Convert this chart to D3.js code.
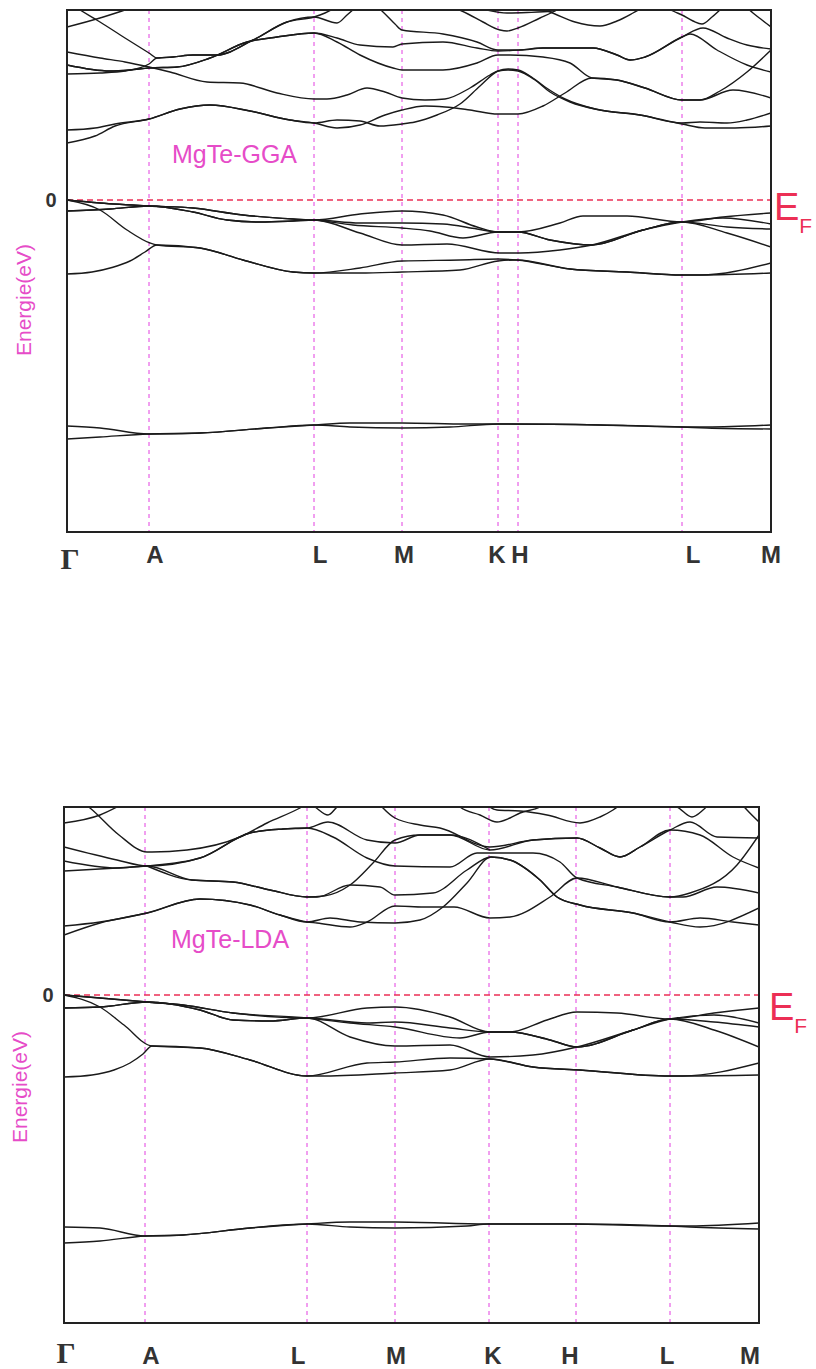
<!DOCTYPE html>
<html>
<head>
<meta charset="utf-8">
<script src="https://cdn.jsdelivr.net/npm/d3@7"></script>
<style>
  body { margin: 0; background: #fff; }
  text { font-family: "Liberation Sans", Arial, sans-serif; }
</style>
</head>
<body>
<svg id="chart" width="816" height="1369"></svg>
<script>
// high-symmetry points along the path (k in path units)
const ggaTicks = [0, 0.82, 2.47, 3.35, 4.31, 4.51, 6.15, 7.04];
const ggaTickNames = ['Γ', 'A', 'L', 'M', 'K', 'H', 'L', 'M'];
const ldaTicks = [0, 0.81, 2.43, 3.31, 4.25, 5.12, 6.06, 6.95];
const ldaTickNames = ['Γ', 'A', 'L', 'M', 'K', 'H', 'L', 'M'];

// MgTe-GGA bands, [k, E(eV)]
const ggaConduction = [
  [[0,2.28],[0.28,2.56],[0.48,2.96],[0.82,3.24],[1.13,3.64],[1.43,3.80],[1.83,3.56],[2.23,3.20],[2.47,3.08],[2.70,2.88],[2.93,3.00],[3.18,3.40],[3.35,3.60],[3.58,3.76],[3.78,3.72],[4.03,3.60],[4.31,3.44],[4.51,3.44],[4.76,3.76],[4.98,4.28],[5.25,4.88],[5.50,4.80],[5.78,4.48],[6.15,4.00],[6.33,4.00],[6.53,4.36],[6.80,5.12],[7.04,6.00]],
  [[0,2.80],[0.28,2.88],[0.48,3.04],[0.82,3.24],[1.13,3.64],[1.43,3.80],[1.83,3.56],[2.23,3.20],[2.47,3.08],[2.70,3.20],[2.93,3.16],[3.13,2.96],[3.35,3.04],[3.48,3.12],[3.70,3.40],[3.93,3.84],[4.13,4.56],[4.31,5.16],[4.41,5.24],[4.51,5.20],[4.63,4.96],[4.78,4.52],[4.98,4.04],[5.28,3.64],[5.73,3.40],[6.15,3.04],[6.38,2.88],[6.68,2.88],[7.04,2.96]],
  [[0,5.92],[0.33,5.68],[0.58,5.52],[0.82,5.32],[1.03,5.12],[1.40,4.72],[1.73,4.68],[2.10,4.28],[2.47,4.04],[2.60,4.04],[2.80,4.20],[3.00,4.48],[3.18,4.32],[3.35,4.08],[3.58,4.00],[3.78,4.04],[4.03,4.48],[4.23,5.00],[4.31,5.16],[4.41,5.20],[4.51,5.16],[4.68,4.80],[4.83,4.32],[5.03,3.92],[5.33,3.60],[5.73,3.40],[6.15,3.08],[6.33,3.12],[6.60,3.08],[6.80,3.20],[7.04,3.48]],
  [[0,5.40],[0.43,5.16],[0.63,5.20],[0.82,5.28],[1.10,5.32],[1.43,5.68],[1.80,6.32],[2.10,6.52],[2.47,6.68],[2.70,6.32],[2.93,5.80],[3.26,5.28],[3.35,5.20],[3.76,5.20],[4.10,5.48],[4.31,5.80],[4.43,5.80],[4.76,5.72],[5.03,5.48],[5.25,4.88],[5.50,4.80],[5.78,4.48],[6.15,4.00],[6.33,4.00],[6.66,4.40],[7.04,4.08]],
  [[0,5.40],[0.43,5.16],[0.63,5.20],[0.82,5.28],[1.10,5.32],[1.43,5.68],[1.80,6.32],[2.10,6.52],[2.47,6.68],[2.70,6.48],[2.93,6.20],[3.26,6.12],[3.35,6.24],[3.76,6.32],[4.10,6.08],[4.31,5.96],[4.53,6.00],[4.76,6.08],[5.26,6.08],[5.50,5.80],[5.63,5.60],[5.78,5.72],[6.15,6.52],[6.36,6.88],[6.60,6.48],[6.80,6.20],[7.04,6.04]],
  [[3.08,7.80],[3.16,7.52],[3.28,7.04],[3.35,6.80],[3.76,6.64],[4.10,6.32],[4.31,6.00],[4.53,6.00],[4.76,6.08],[5.26,6.08],[5.50,5.80],[5.63,5.60],[5.78,5.72],[6.15,6.52],[6.23,6.64],[6.50,6.00],[6.80,5.40],[7.04,5.12]],
  [[0,7.92],[0.13,7.60],[0.33,7.12],[0.58,6.48],[0.82,5.88],[0.90,5.68],[1.06,5.72],[1.26,5.80],[1.50,5.80],[1.86,6.40],[2.20,7.12],[2.47,7.32],[2.58,7.48],[2.73,7.80]],
  [[0,5.04],[0.33,5.08],[0.58,5.16],[0.82,5.44],[0.90,5.68],[1.06,5.72],[1.26,5.80],[1.50,5.80],[1.86,6.40],[2.20,7.12],[2.47,7.32],[2.70,7.08],[2.80,7.40],[2.88,7.68]],
  [[0,6.92],[0.33,7.28],[0.55,7.56],[0.68,7.76]],
  [[3.88,7.68],[4.01,7.44],[4.16,7.12],[4.33,6.80],[4.40,6.76],[4.51,6.88],[4.73,7.28],[4.86,7.52],[4.95,7.72]],
  [[4.73,7.68],[4.88,7.44],[5.08,7.12],[5.33,6.96],[5.50,7.16],[5.66,7.48],[5.75,7.68]],
  [[4.20,7.60],[4.40,7.48],[4.60,7.50],[4.85,7.56],[5.00,7.70]],
  [[5.98,7.76],[6.06,7.56],[6.15,7.40],[6.26,7.16],[6.35,7.04],[6.45,7.32],[6.55,7.68]],
  [[6.78,7.76],[6.86,7.48],[6.95,7.20],[7.04,6.92]]
];
const ggaValence = [
  [[0,0],[0.33,-0.12],[0.82,-0.24],[1.26,-0.32],[1.76,-0.60],[2.26,-0.76],[2.47,-0.80],[2.93,-0.56],[3.35,-0.44],[3.76,-0.60],[4.10,-1.08],[4.31,-1.28],[4.51,-1.28],[4.93,-0.92],[5.16,-0.64],[5.60,-0.64],[6.15,-0.88],[6.56,-0.68],[7.04,-0.52]],
  [[0,-0.44],[0.43,-0.36],[0.82,-0.24],[1.26,-0.48],[1.60,-0.80],[1.93,-0.88],[2.26,-0.84],[2.47,-0.80],[2.93,-0.92],[3.35,-0.92],[3.76,-0.96],[4.10,-1.16],[4.31,-1.28],[4.51,-1.28],[4.83,-1.60],[5.25,-1.80],[5.76,-1.20],[6.15,-0.88],[6.56,-0.72],[7.04,-0.96]],
  [[0,0],[0.33,-0.40],[0.60,-1.20],[0.83,-1.72],[0.90,-1.80],[1.33,-1.92],[1.76,-2.40],[2.26,-2.88],[2.47,-2.92],[2.93,-2.72],[3.35,-2.44],[3.93,-2.40],[4.31,-2.36],[4.50,-2.40],[5.03,-2.76],[5.60,-2.88],[6.15,-3.00],[6.33,-3.00],[7.04,-2.52]],
  [[0,-2.96],[0.25,-2.88],[0.45,-2.70],[0.63,-2.44],[0.78,-2.08],[0.90,-1.80],[1.33,-1.92],[1.76,-2.40],[2.26,-2.88],[2.47,-2.92],[2.93,-2.92],[3.35,-2.88],[3.93,-2.80],[4.31,-2.44],[4.50,-2.40],[5.03,-2.76],[5.60,-2.88],[6.15,-3.00],[6.33,-3.00],[7.04,-2.92]],
  [[0,0],[0.33,-0.12],[0.82,-0.24],[1.26,-0.32],[1.76,-0.60],[2.26,-0.76],[2.47,-0.80],[2.86,-1.00],[3.35,-1.12],[3.63,-1.24],[3.96,-1.52],[4.31,-1.28],[4.51,-1.28],[4.83,-1.60],[5.25,-1.80],[5.76,-1.20],[6.15,-0.88],[6.60,-1.08],[7.04,-1.16]],
  [[0,-0.44],[0.43,-0.36],[0.82,-0.24],[1.26,-0.48],[1.60,-0.80],[1.93,-0.88],[2.26,-0.84],[2.47,-0.80],[2.93,-1.32],[3.35,-1.80],[3.80,-1.76],[4.33,-2.12],[4.53,-2.12],[4.93,-2.00],[5.25,-1.80],[5.76,-1.20],[6.15,-0.88],[6.60,-1.32],[7.04,-1.88]]
];
const ggaSemicore = [
  [[0,-9.04],[0.33,-9.12],[0.82,-9.36],[1.33,-9.32],[2.00,-9.12],[2.47,-9.00],[2.83,-8.92],[3.35,-8.92],[4.00,-8.96],[4.31,-8.96],[5.33,-9.00],[6.15,-9.08],[6.40,-9.08],[7.04,-9.00]],
  [[0,-9.56],[0.33,-9.48],[0.82,-9.36],[1.33,-9.32],[2.00,-9.12],[2.47,-9.00],[2.83,-9.08],[3.35,-9.12],[3.83,-9.08],[4.31,-8.96],[5.33,-9.00],[6.15,-9.08],[6.40,-9.12],[7.04,-9.16]]
];

// MgTe-LDA bands, [k, E(eV)]
const ldaConduction = [
  [[0,2.40],[0.36,2.88],[0.83,3.28],[1.36,3.84],[1.86,3.60],[2.16,3.20],[2.43,2.92],[2.53,2.88],[2.86,2.72],[3.03,2.92],[3.31,3.56],[3.60,3.52],[3.90,3.52],[4.26,3.08],[4.46,3.12],[4.86,3.92],[5.13,4.68],[5.53,4.32],[6.06,3.92],[6.26,4.08],[6.73,5.20],[6.95,6.40]],
  [[0,2.76],[0.36,2.92],[0.83,3.28],[1.36,3.84],[1.86,3.60],[2.16,3.20],[2.43,2.92],[2.66,3.08],[2.96,2.92],[3.31,2.88],[3.56,3.00],[3.79,3.52],[4.03,4.48],[4.27,5.52],[4.46,5.40],[4.76,4.60],[4.93,3.92],[5.16,3.60],[5.69,3.28],[6.06,2.92],[6.36,3.08],[6.69,2.92],[6.95,2.80]],
  [[0,5.36],[0.53,5.08],[0.83,5.16],[1.28,4.60],[1.69,4.52],[2.06,4.20],[2.43,3.92],[2.53,3.92],[2.86,4.40],[3.16,4.32],[3.31,4.00],[3.69,4.08],[4.03,5.00],[4.27,5.52],[4.46,5.40],[4.76,4.60],[4.93,3.92],[5.16,3.60],[5.69,3.28],[6.06,2.92],[6.36,2.72],[6.95,3.48]],
  [[0,5.92],[0.53,5.40],[0.83,5.16],[1.36,5.48],[1.86,6.48],[2.19,6.64],[2.43,6.68],[2.69,6.32],[3.03,5.48],[3.31,5.16],[3.86,5.12],[4.13,5.68],[4.26,5.68],[4.69,5.68],[4.96,5.32],[5.13,4.68],[5.53,4.32],[6.06,3.92],[6.19,3.92],[6.53,4.32],[6.95,4.08]],
  [[0,4.96],[0.53,5.08],[0.83,5.16],[1.36,5.48],[1.86,6.48],[2.19,6.64],[2.43,6.68],[2.64,6.92],[3.03,6.20],[3.31,6.08],[3.56,6.40],[3.86,6.40],[4.26,5.80],[4.69,6.20],[5.13,6.28],[5.36,5.88],[5.56,5.52],[5.76,5.92],[6.06,6.60],[6.26,6.92],[6.53,6.32],[6.95,6.28]],
  [[3.12,7.80],[3.19,7.48],[3.31,7.08],[3.56,6.80],[3.76,6.68],[4.26,5.92],[4.69,6.20],[5.13,6.28],[5.36,5.88],[5.56,5.52],[5.76,5.92],[6.06,6.60],[6.36,6.40],[6.69,5.52],[6.95,5.08]],
  [[0.83,5.16],[1.28,4.60],[1.69,4.52],[2.06,4.20],[2.43,3.92],[2.60,3.96],[2.86,4.40],[3.09,5.28],[3.31,6.20],[3.56,6.40],[3.86,6.40],[4.26,5.80]],
  [[0,8.20],[0.26,7.48],[0.55,6.40],[0.83,5.72],[0.88,5.72],[1.23,5.80],[1.76,6.32],[2.03,6.88],[2.36,7.48],[2.50,7.80]],
  [[0,6.88],[0.36,7.20],[0.53,7.52],[0.66,7.80]],
  [[2.40,7.80],[2.51,7.52],[2.64,7.20],[2.73,7.52],[2.80,7.80]],
  [[3.90,7.80],[3.96,7.52],[4.16,7.20],[4.33,6.92],[4.46,7.08],[4.56,7.28],[4.76,7.52],[4.86,7.80]],
  [[4.20,7.68],[4.33,7.40],[4.56,7.36],[4.83,7.20],[5.16,6.88],[5.36,7.12],[5.49,7.40],[5.60,7.72]],
  [[6.03,7.60],[6.13,7.52],[6.28,7.12],[6.39,7.40],[6.48,7.76]],
  [[6.75,7.76],[6.83,7.40],[6.95,6.92]]
];
const ldaValence = [
  [[0,0],[0.36,-0.12],[0.83,-0.28],[1.19,-0.40],[1.69,-0.72],[2.43,-0.92],[3.03,-0.52],[3.31,-0.48],[3.86,-0.88],[4.26,-1.48],[4.46,-1.48],[4.83,-1.00],[5.13,-0.68],[5.53,-0.72],[6.06,-0.96],[6.50,-0.72],[6.95,-0.52]],
  [[0,-0.52],[0.36,-0.48],[0.83,-0.28],[1.36,-0.60],[1.69,-1.00],[2.06,-1.04],[2.43,-0.92],[3.03,-1.12],[3.31,-1.08],[3.86,-1.32],[4.26,-1.48],[4.46,-1.48],[4.86,-1.80],[5.13,-2.08],[5.69,-1.40],[6.06,-0.96],[6.50,-0.80],[6.95,-1.12]],
  [[0,0],[0.36,-0.48],[0.60,-1.20],[0.88,-2.04],[1.36,-2.12],[1.86,-2.60],[2.43,-3.24],[3.03,-2.72],[3.31,-2.68],[3.86,-2.52],[4.26,-2.56],[4.69,-2.88],[5.16,-3.00],[6.06,-3.24],[6.19,-3.24],[6.95,-2.72]],
  [[0,-3.28],[0.28,-3.20],[0.50,-3.00],[0.66,-2.72],[0.79,-2.36],[0.88,-2.04],[1.36,-2.12],[1.86,-2.60],[2.43,-3.24],[2.56,-3.24],[3.31,-3.12],[3.86,-3.00],[4.26,-2.56],[4.69,-2.88],[5.16,-3.00],[6.06,-3.24],[6.19,-3.24],[6.95,-3.20]],
  [[0,0],[0.36,-0.12],[0.83,-0.28],[1.19,-0.40],[1.69,-0.72],[2.43,-0.92],[2.86,-1.12],[3.31,-1.28],[3.96,-1.72],[4.26,-1.48],[4.46,-1.48],[4.86,-1.80],[5.13,-2.08],[5.69,-1.40],[6.06,-0.96],[6.50,-1.08],[6.95,-1.28]],
  [[0,-0.52],[0.36,-0.48],[0.83,-0.28],[1.36,-0.60],[1.69,-1.00],[2.06,-1.04],[2.43,-0.92],[2.86,-1.68],[3.31,-2.04],[3.86,-2.00],[4.26,-2.48],[4.69,-2.40],[5.13,-2.08],[5.69,-1.40],[6.06,-0.96],[6.50,-1.40],[6.95,-2.08]]
];
const ldaSemicore = [
  [[0,-9.28],[0.36,-9.32],[0.81,-9.64],[1.19,-9.60],[1.86,-9.32],[2.43,-9.16],[2.86,-9.08],[3.31,-9.08],[4.24,-9.16],[5.09,-9.16],[6.06,-9.24],[6.26,-9.24],[6.95,-9.12]],
  [[0,-9.92],[0.36,-9.84],[0.81,-9.64],[1.19,-9.60],[1.86,-9.32],[2.43,-9.16],[2.86,-9.28],[3.31,-9.32],[4.03,-9.24],[4.24,-9.16],[5.09,-9.16],[6.06,-9.24],[6.26,-9.28],[6.95,-9.36]]
];

const MAGENTA = '#e64cc8';
const REDPINK = '#ec2f55';

const svg = d3.select('#chart');

function drawPanel(p) {
  const kMax = p.ticks[p.ticks.length - 1];
  const x = d3.scaleLinear().domain([0, kMax]).range([p.left, p.left + p.width]);
  const y = d3.scaleLinear().domain(p.eRange).range([p.top + p.height, p.top]);
  const g = svg.append('g');

  g.append('clipPath').attr('id', p.id + '-clip')
    .append('rect')
      .attr('x', p.left).attr('y', p.top)
      .attr('width', p.width).attr('height', p.height);

  // vertical lines at the inner high-symmetry points
  g.selectAll('.kline')
    .data(p.ticks.slice(1, -1))
    .join('line')
      .attr('class', 'kline')
      .attr('x1', (d) => x(d)).attr('x2', (d) => x(d))
      .attr('y1', p.top).attr('y2', p.top + p.height)
      .attr('stroke', '#e23ee0')
      .attr('stroke-width', 1)
      .attr('stroke-dasharray', '4,4');

  // Fermi level
  g.append('line')
    .attr('x1', p.left).attr('x2', p.left + p.width)
    .attr('y1', y(0)).attr('y2', y(0))
    .attr('stroke', REDPINK)
    .attr('stroke-width', 1.3)
    .attr('stroke-dasharray', '6,4');

  const line = d3.line()
    .x((d) => x(d[0]))
    .y((d) => y(d[1]))
    .curve(d3.curveMonotoneX);

  g.append('g')
    .attr('clip-path', `url(#${p.id}-clip)`)
    .selectAll('path')
    .data(p.bands)
    .join('path')
      .attr('d', line)
      .attr('fill', 'none')
      .attr('stroke', '#1a1a1a')
      .attr('stroke-width', 1.4);

  // frame
  g.append('rect')
    .attr('x', p.left).attr('y', p.top)
    .attr('width', p.width).attr('height', p.height)
    .attr('fill', 'none')
    .attr('stroke', '#222')
    .attr('stroke-width', 2);

  // k-point labels
  g.selectAll('.klabel')
    .data(p.ticks)
    .join('text')
      .attr('class', 'klabel')
      .attr('x', (d, i) => x(d) + p.labelNudge[i])
      .attr('y', (d, i) => (i === 0 ? p.gammaBase : p.labelBase))
      .attr('text-anchor', 'middle')
      .attr('fill', '#333')
      .style('font-family', (d, i) => (i === 0 ? '"Liberation Serif", "DejaVu Serif", serif' : null))
      .style('font-size', (d, i) => (i === 0 ? '30px' : '24px'))
      .style('font-weight', 'bold')
      .text((d, i) => p.names[i]);

  // zero label
  g.append('text')
    .attr('x', p.left - 16).attr('y', y(0) + 7)
    .attr('text-anchor', 'middle')
    .attr('fill', '#333')
    .style('font-size', '20px')
    .style('font-weight', 'bold')
    .text('0');

  // axis title
  g.append('text')
    .attr('transform', `translate(${p.yTitleX},${p.yTitleY}) rotate(-90)`)
    .attr('text-anchor', 'middle')
    .attr('fill', MAGENTA)
    .style('font-size', '21px')
    .text('Energie(eV)');

  // panel title
  g.append('text')
    .attr('x', p.titleX).attr('y', p.titleY)
    .attr('fill', MAGENTA)
    .style('font-size', '25px')
    .text(p.title);

  // E_F marker
  const ef = g.append('text')
    .attr('x', p.efX).attr('y', y(0) + p.efDy)
    .attr('fill', REDPINK);
  ef.append('tspan').style('font-size', '38px').text('E');
  ef.append('tspan').attr('dy', 13).style('font-size', '21px').text('F');
}

drawPanel({
  id: 'gga',
  left: 67, top: 10, width: 704, height: 522,
  eRange: [-13.28, 7.6],
  ticks: ggaTicks,
  names: ggaTickNames,
  labelNudge: [3, 6, 6, 2, -1, 2, 11, 0],
  labelBase: 563, gammaBase: 569,
  bands: [...ggaSemicore, ...ggaValence, ...ggaConduction],
  title: 'MgTe-GGA', titleX: 172, titleY: 163,
  yTitleX: 31, yTitleY: 300,
  efX: 774, efDy: 20
});

drawPanel({
  id: 'lda',
  left: 64, top: 807, width: 695, height: 516,
  eRange: [-13.12, 7.52],
  ticks: ldaTicks,
  names: ldaTickNames,
  labelNudge: [2, 6, -9, 1, 4, -6, -3, -9],
  labelBase: 1364, gammaBase: 1363,
  bands: [...ldaSemicore, ...ldaValence, ...ldaConduction],
  title: 'MgTe-LDA', titleX: 171, titleY: 948,
  yTitleX: 27, yTitleY: 1087,
  efX: 769, efDy: 25
});
</script>
</body>
</html>
